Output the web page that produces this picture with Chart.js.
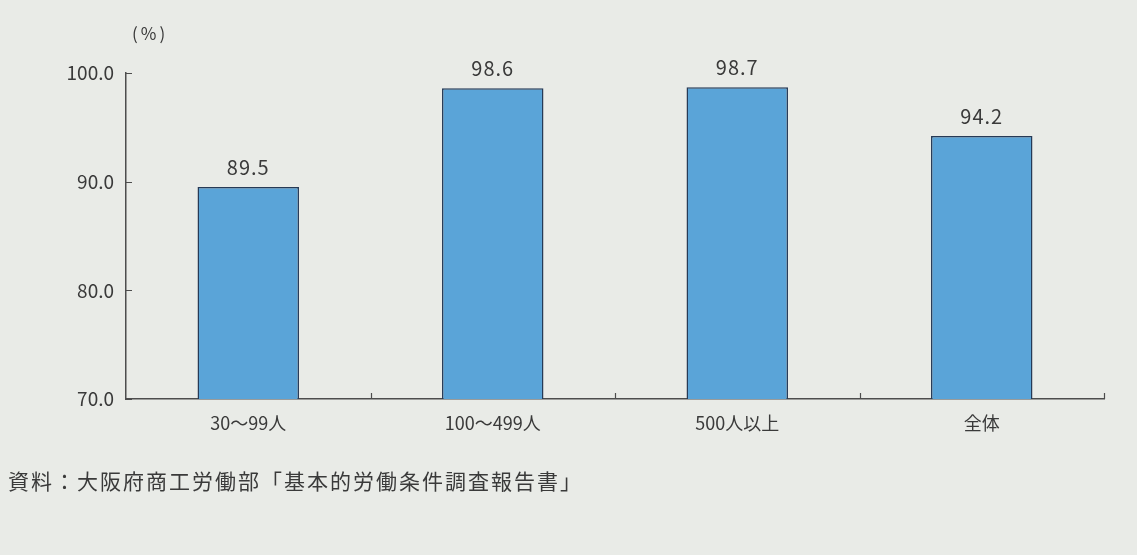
<!DOCTYPE html>
<html lang="ja">
<head>
<meta charset="utf-8">
<script src="https://cdn.jsdelivr.net/npm/chart.js@4.4.1/dist/chart.umd.min.js"></script>
<style>
  html, body { margin: 0; padding: 0; background: #e9ebe7; }
  #wrap { position: relative; width: 1137px; height: 555px; overflow: hidden; }
  #chart { position: absolute; left: 0; top: 0; }
  .unit {
    position: absolute; left: 132px; top: 20px;
    font: 17px "Noto Sans CJK JP", sans-serif; color: #3a3a3a;
    letter-spacing: 3px;
  }
  .source {
    position: absolute; left: 8px; top: 465px;
    font: 21px "Noto Sans CJK JP", sans-serif; color: #3a3a3a;
    letter-spacing: 2px; white-space: nowrap;
  }
</style>
</head>
<body>
<div id="wrap">
  <canvas id="chart" width="1137" height="555"></canvas>
  <div class="unit">(%)</div>
  <div class="source">資料：大阪府商工労働部「基本的労働条件調査報告書」</div>
</div>
<script>
  // 規模別の値
  const categories = ["30～99人", "100～499人", "500人以上", "全体"];
  const rates = [89.5, 98.6, 98.7, 94.2];
  const yTicks = [70, 80, 90, 100];

  const TEXT = "#3a3a3a";
  const AXIS = "#4d4d4d";

  // 棒の上に値を表示
  const valueLabels = {
    id: "valueLabels",
    afterDatasetsDraw(chart) {
      const ctx = chart.ctx;
      const meta = chart.getDatasetMeta(0);
      ctx.save();
      ctx.font = '20px "Noto Sans CJK JP", sans-serif';
      ctx.fillStyle = TEXT;
      ctx.textAlign = "center";
      ctx.textBaseline = "bottom";
      ctx.letterSpacing = "1px";
      meta.data.forEach((bar, i) => {
        ctx.fillText(rates[i].toFixed(1), bar.x, bar.y - 10);
      });
      ctx.restore();
    }
  };

  // 軸の内側に短い目盛り線
  const innerTicks = {
    id: "innerTicks",
    afterDraw(chart) {
      const ctx = chart.ctx;
      const x = chart.scales.x;
      const y = chart.scales.y;
      const area = chart.chartArea;
      ctx.save();
      ctx.strokeStyle = AXIS;
      ctx.lineWidth = 1.2;
      ctx.beginPath();
      yTicks.forEach(v => {
        const py = Math.round(y.getPixelForValue(v)) + 0.5;
        ctx.moveTo(area.left, py);
        ctx.lineTo(area.left + 6, py);
      });
      const step = (area.right - area.left) / categories.length;
      for (let i = 0; i < categories.length; i++) {
        const px = Math.round(x.getPixelForValue(i) + step / 2) + 0.5;
        ctx.moveTo(px, area.bottom);
        ctx.lineTo(px, area.bottom - 6);
      }
      ctx.stroke();
      ctx.restore();
    }
  };

  new Chart(document.getElementById("chart"), {
    type: "bar",
    data: {
      labels: categories,
      datasets: [{
        data: rates,
        backgroundColor: "#5aa4d8",
        borderColor: "#263a56",
        borderWidth: 1.5,
        barPercentage: 0.415,
        categoryPercentage: 1
      }]
    },
    options: {
      responsive: false,
      animation: false,
      layout: { padding: { top: 73, right: 33, left: 0, bottom: 0 } },
      plugins: { legend: { display: false }, tooltip: { enabled: false } },
      scales: {
        x: {
          afterFit: s => { s.height = 156; },
          grid: { display: false },
          border: { display: true, color: AXIS, width: 1.5 },
          ticks: {
            color: TEXT,
            padding: 5,
            font: { family: '"Noto Sans CJK JP", sans-serif', size: 18 }
          }
        },
        y: {
          min: 70,
          max: 100,
          afterFit: s => { s.width = 126; },
          afterBuildTicks: s => { s.ticks = yTicks.map(v => ({ value: v })); },
          grid: { display: false },
          border: { display: true, color: AXIS, width: 1.5 },
          ticks: {
            color: TEXT,
            padding: 4,
            font: { family: '"Noto Sans CJK JP", sans-serif', size: 19 },
            callback: v => v.toFixed(1)
          }
        }
      }
    },
    plugins: [valueLabels, innerTicks]
  });
</script>
</body>
</html>
